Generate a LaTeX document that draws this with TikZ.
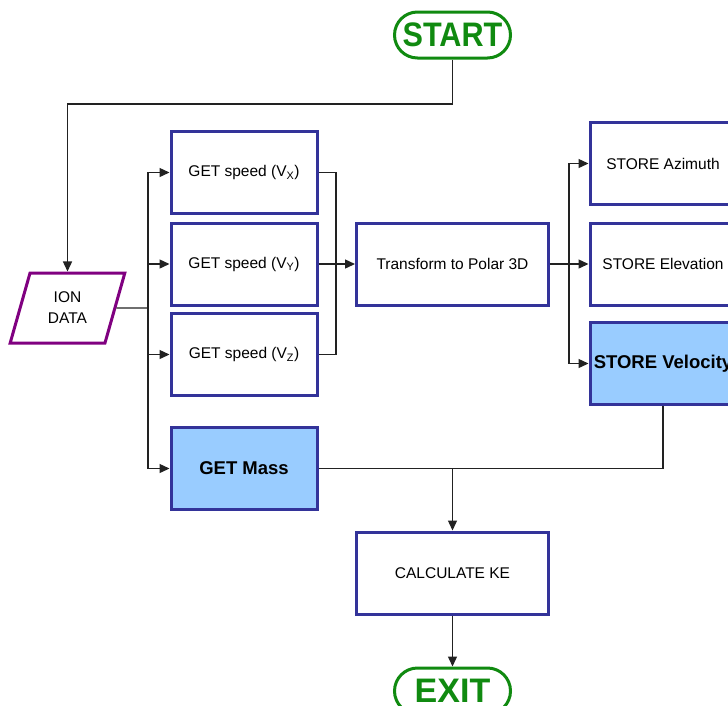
\documentclass[tikz,border=0pt]{standalone}
\usepackage{fontspec}
\setmainfont{Liberation Sans}
\usetikzlibrary{arrows.meta,shapes.geometric}
\definecolor{boxblue}{HTML}{333399}
\definecolor{termgreen}{HTML}{108A10}
\definecolor{iopurple}{HTML}{800080}
\definecolor{fillblue}{HTML}{99CCFF}
\definecolor{linegray}{HTML}{222222}
\tikzset{
  procbox/.style={draw=boxblue, line width=3pt, fill=white, minimum width=146pt,
    minimum height=82pt, inner sep=0pt, font=\fontsize{15.5}{19}\selectfont},
  widebox/.style={procbox, minimum width=192pt},
  keybox/.style={procbox, fill=fillblue, font=\fontsize{18.5}{22}\selectfont\bfseries},
  terminal/.style={draw=termgreen, line width=3pt, fill=white, rounded corners=23pt,
    minimum width=116pt, minimum height=46pt, inner sep=0pt, text=termgreen,
    font=\fontsize{34}{38}\selectfont\bfseries},
  iobox/.style={trapezium, trapezium left angle=72, trapezium right angle=108,
    trapezium stretches=true, draw=iopurple, line width=3pt, fill=white,
    minimum width=115pt, minimum height=70pt, inner sep=0pt, align=center,
    font=\fontsize{15.5}{21}\selectfont},
  conn/.style={draw=linegray, line width=1.4pt},
  flow/.style={conn, -{Triangle[length=10pt,width=9pt]}}
}
\begin{document}
\begin{tikzpicture}[x=1pt,y=-1pt]
\useasboundingbox (0,0) rectangle (728,705);
\clip (0,0) rectangle (728,705);

% terminals
\node[terminal] (start) at (452.5,35) {\scalebox{0.9}[1]{START}};
\node[terminal] (exit) at (452.5,691) {EXIT};

% input
\node[iobox] (ion) at (67.5,308) {ION\\DATA};

% first column
\node[procbox] (vx) at (244,172.5) {GET speed (V\textsubscript{X})};
\node[procbox] (vy) at (244,264) {GET speed (V\textsubscript{Y})};
\node[procbox] (vz) at (244,354.5) {GET speed (V\textsubscript{Z})};
\node[keybox] (mass) at (244,468.5) {GET Mass};

% transform and stores
\node[widebox] (tr) at (452.5,264) {Transform to Polar 3D};
\node[procbox] (az) at (663,163.5) {STORE Azimuth};
\node[procbox] (el) at (663,264) {STORE Elevation};
\node[keybox] (vel) at (663,363.5) {STORE Velocity};

% final calculation
\node[widebox] (calc) at (452.5,573) {CALCULATE KE};

% junction points
\coordinate (top) at (452.5,104);
\coordinate (busL) at (148,308);
\coordinate (busR) at (336,264);
\coordinate (busS) at (569,264);
\coordinate (join) at (452.5,468.5);

% connectors
\draw[flow] (start.south) -- (top) -| (ion.north);
\draw[conn] (ion.east) -- (busL);
\draw[flow] (busL) |- (vx.west);
\draw[flow] (busL) |- (vy.west);
\draw[flow] (busL) |- (vz.west);
\draw[flow] (busL) |- (mass.west);
\draw[conn] (vx.east) -| (busR) |- (vz.east);
\draw[flow] (vy.east) -- (tr.west);
\draw[conn] (tr.east) -- (busS);
\draw[flow] (busS) |- (az.west);
\draw[flow] (busS) -- (el.west);
\draw[flow] (busS) |- (vel.west);
\draw[conn] (vel.south) |- (join);
\draw[conn] (mass.east) -- (join);
\draw[flow] (join) -- (calc.north);
\draw[flow] (calc.south) -- (exit.north);
\end{tikzpicture}
\end{document}
